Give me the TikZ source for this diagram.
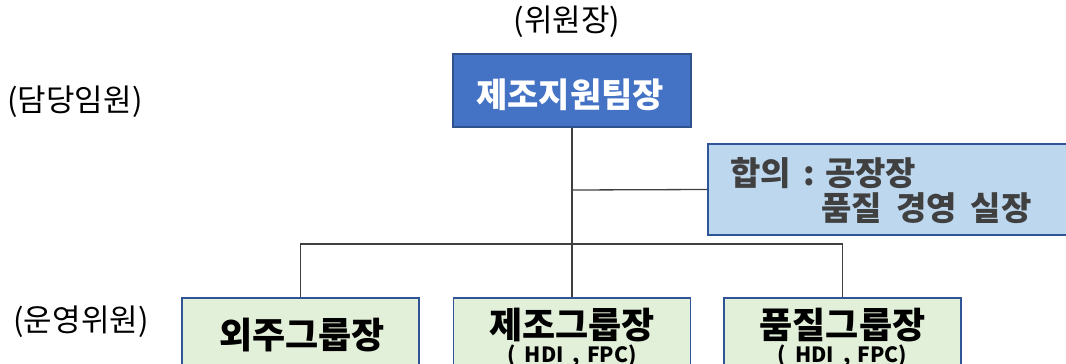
\documentclass[tikz,border=0pt]{standalone}
\usepackage{fontspec}
\setmainfont{Noto Sans CJK KR}
\definecolor{topfill}{HTML}{4472C4}
\definecolor{topline}{HTML}{2F528F}
\definecolor{agreefill}{HTML}{BDD7EE}
\definecolor{grpfill}{HTML}{E2F0D9}
\definecolor{boxline}{HTML}{2F5597}
\definecolor{conn}{HTML}{404040}
\definecolor{agreetext}{HTML}{404040}
\tikzset{
  box/.style={draw=#1, line width=1.6pt, rectangle, inner sep=0pt},
  grpbox/.style={box=boxline, fill=grpfill, minimum width=237pt, minimum height=84pt},
  conline/.style={draw=conn, line width=1.3pt},
  side/.style={font=\fontsize{31}{36}\selectfont, text=black, inner sep=0pt},
  grptitle/.style={font=\fontsize{36}{40}\selectfont\bfseries, text=black, inner sep=0pt},
  grpsub/.style={font=\fontsize{21}{24}\selectfont\bfseries, text=black, inner sep=0pt},
  agreetxt/.style={font=\fontsize{33}{38}\selectfont\bfseries, text=agreetext, inner sep=0pt, anchor=west}
}
\begin{document}
\begin{tikzpicture}[x=1pt,y=-1pt]
\useasboundingbox (0,0) rectangle (1066,364);
\clip (0,0) rectangle (1066,364);
% boxes
\node[box=topline, fill=topfill, minimum width=238pt, minimum height=73pt] (top) at (572,90.5) {};
\node[font=\fontsize{34}{38}\selectfont\bfseries, text=white, inner sep=0pt] (toptxt) at (570,95) {제조지원팀장};
\node[box=boxline, fill=agreefill, minimum width=380pt, minimum height=91pt] (agree) at (898,189.5) {};
\node[agreetxt] (ag1) at (730,173) {합의\hspace{0.15em} : 공장장};
\node[agreetxt] (ag2) at (821,208) {품질\hspace{0.2em} 경영\hspace{0.2em} 실장};
\node[grpbox] (g1) at (300.5,340) {};
\node[grpbox] (g2) at (572,340) {};
\node[grpbox] (g3) at (842.5,340) {};
\node[grptitle] (g1t) at (302,335) {외주그룹장};
\node[grptitle] (g2t) at (572,325) {제조그룹장};
\node[grpsub] (g2s) at (572,356) {(\hspace{0.2em} HDI\hspace{0.2em} ,\hspace{0.1em} FPC)};
\node[grptitle] (g3t) at (842.5,325) {품질그룹장};
\node[grpsub] (g3s) at (842.5,356) {(\hspace{0.2em} HDI\hspace{0.2em} ,\hspace{0.1em} FPC)};
% side labels
\node[side] (chair) at (567,22) {(위원장)};
\node[side] (exec) at (75,102) {(담당임원)};
\node[side] (oper) at (81,322) {(운영위원)};
% connectors
\coordinate (j1) at (572,190);
\coordinate (bar) at (572,244);
\draw[conline] (top.south) -- (bar);
\draw[conline] (j1) -- (agree.west);
\draw[conline] (g1.north) |- (bar) -| (g3.north);
\draw[conline] (bar) -- (g2.north);
\end{tikzpicture}
\end{document}
